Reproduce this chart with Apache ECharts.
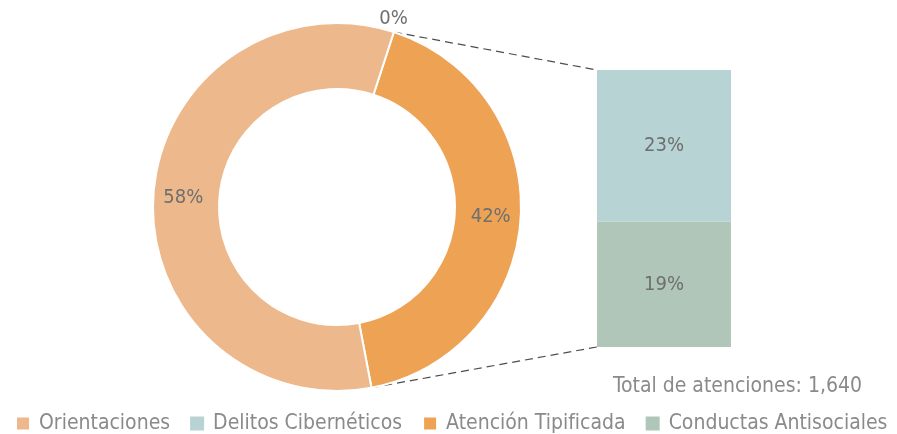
<!DOCTYPE html>
<html lang="es">
<head>
    <meta charset="UTF-8">
    <title>Atenciones</title>
    <script src="https://cdn.jsdelivr.net/npm/echarts@6/dist/echarts.min.js"></script>
    <style>
        html, body { margin: 0; padding: 0; background: #fff; }
        #chart { width: 897px; height: 434px; }
    </style>
</head>
<body>
    <div id="chart"></div>
    <script>
        // datos (porcentajes), en orden horario desde el borde superior
        var pieNames = ['', 'Atención Tipificada', 'Orientaciones'];
        var pieValues = [0, 42, 58];
        var barNames = ['Conductas Antisociales', 'Delitos Cibernéticos'];
        var barValues = [19, 23];
        var legendNames = ['Orientaciones', 'Delitos Cibernéticos', 'Atención Tipificada', 'Conductas Antisociales'];
        var totalText = 'Total de atenciones: 1,640';

        var font = "'Liberation Sans Narrow', 'DejaVu Sans Condensed', sans-serif";
        var colors = {
            'Orientaciones': '#edb98c',
            'Atención Tipificada': '#eea254',
            'Delitos Cibernéticos': '#b8d3d3',
            'Conductas Antisociales': '#afc6b8'
        };

        var cx = 337, cy = 207, rOut = 184, rIn = 118;
        var startAngle = 72;
        var barLeft = 597, barWidth = 134, barTop = 70, barBottom = 347;

        // bordes de la porcion "Atención Tipificada"
        var total = pieValues.reduce(function (a, b) { return a + b; }, 0);
        var a1 = startAngle;
        var a2 = startAngle - pieValues[1] / total * 360;
        function pt(a) {
            var r = a * Math.PI / 180;
            return [cx + rOut * Math.cos(r), cy - rOut * Math.sin(r)];
        }
        var p1 = pt(a1), p2 = pt(a2);

        var pieData = pieNames.map(function (n, i) {
            var d = { name: n, value: pieValues[i], itemStyle: { color: colors[n] || '#ccc' } };
            if (pieValues[i] === 0) {
                d.label = { position: 'outside', distance: 6, padding: [0, 0, 0, -24] };
                d.labelLine = { show: false, length: 14, length2: 0 };
            }
            return d;
        });

        var barSeries = barNames.map(function (n, i) {
            return {
                name: n,
                type: 'bar',
                stack: 'otros',
                barWidth: '100%',
                data: [barValues[i]],
                itemStyle: { color: colors[n] },
                label: {
                    show: true,
                    position: 'inside',
                    formatter: '{c}%',
                    color: '#6f6f6f',
                    fontSize: 20,
                    fontFamily: font
                },
                silent: true
            };
        });

        var option = {
            animation: false,
            title: {
                text: totalText,
                right: 30,
                top: 371,
                textStyle: { fontSize: 21, fontWeight: 'normal', color: '#8a8a8a', fontFamily: font }
            },
            legend: {
                data: legendNames,
                left: 10,
                top: 408,
                itemWidth: 14,
                itemHeight: 14,
                itemGap: 20,
                icon: 'rect',
                textStyle: { fontSize: 21, color: '#8a8a8a', fontFamily: font, padding: [0, 0, 0, 4] }
            },
            grid: {
                left: barLeft,
                width: barWidth,
                top: barTop,
                height: barBottom - barTop
            },
            xAxis: { type: 'category', data: ['Otros'], show: false },
            yAxis: { type: 'value', min: 0, max: barValues[0] + barValues[1], show: false },
            graphic: [
                { type: 'line', shape: { x1: p1[0], y1: p1[1], x2: barLeft, y2: barTop },
                  style: { stroke: '#4d4d4d', lineWidth: 1.2, lineDash: [8, 5] } },
                { type: 'line', shape: { x1: p2[0], y1: p2[1], x2: barLeft, y2: barBottom },
                  style: { stroke: '#4d4d4d', lineWidth: 1.2, lineDash: [8, 5] } }
            ],
            series: [{
                type: 'pie',
                center: [cx, cy],
                radius: [rIn, rOut],
                startAngle: startAngle,
                silent: true,
                itemStyle: { borderColor: '#fff', borderWidth: 2 },
                label: {
                    show: true,
                    position: 'inside',
                    formatter: '{c}%',
                    color: '#6f6f6f',
                    fontSize: 20,
                    fontFamily: font
                },
                labelLine: { show: false },
                data: pieData
            }].concat(barSeries)
        };

        var myChart = echarts.init(document.getElementById('chart'));
        myChart.setOption(option);
    </script>
</body>
</html>
